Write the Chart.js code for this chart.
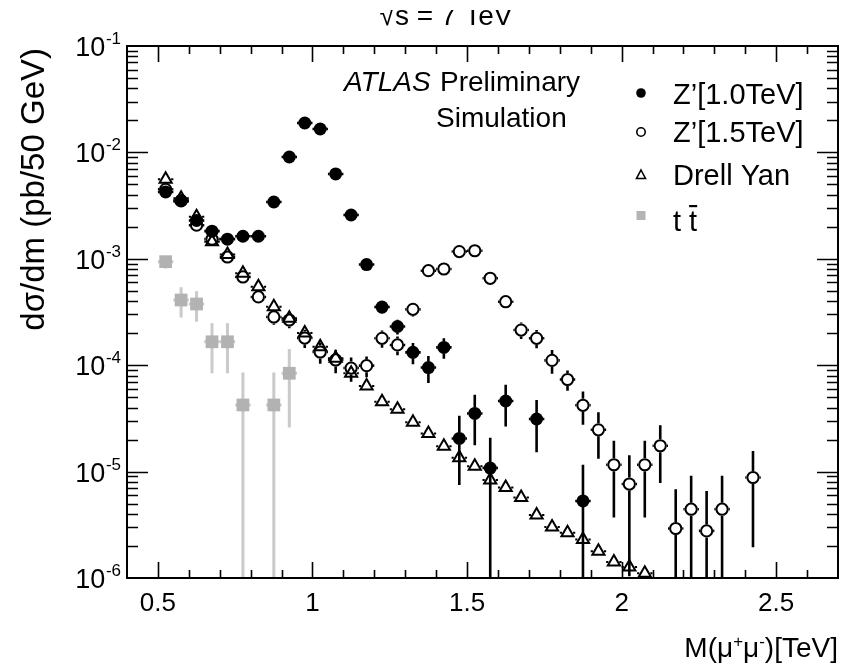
<!DOCTYPE html>
<html>
<head>
<meta charset="utf-8">
<script src="https://cdn.jsdelivr.net/npm/chart.js@4/dist/chart.umd.min.js"></script>
<style>
  html, body { margin: 0; padding: 0; background: #ffffff; }
  #wrap { width: 841px; height: 670px; position: relative; }
  canvas { display: block; }
</style>
</head>
<body>
<div id="wrap"><canvas id="c" width="841" height="670"></canvas></div>
<script>
// Dimuon invariant mass bins (centres, TeV), 50 GeV wide
const massBins = [0.525, 0.575, 0.625, 0.675, 0.725, 0.775, 0.825, 0.875, 0.925, 0.975,
                  1.025, 1.075, 1.125, 1.175, 1.225, 1.275, 1.325, 1.375, 1.425, 1.475,
                  1.525, 1.575, 1.625, 1.675, 1.725, 1.775, 1.825, 1.875, 1.925, 1.975,
                  2.025, 2.075, 2.125, 2.175, 2.225, 2.275, 2.325, 2.375, 2.425];
const binHalfWidth = 0.025;

// dσ/dm (pb / 50 GeV) per sample, with statistical errors
const zp1000 = [4.25e-3, 3.53e-3, 2.29e-3, 1.82e-3, 1.53e-3, 1.63e-3, 1.63e-3, 3.42e-3, 9.05e-3, 1.89e-2,
                1.66e-2, 6.27e-3, 2.58e-3, 8.83e-4, 3.52e-4, 2.31e-4, 1.32e-4, 9.5e-5, 1.47e-4, 2.05e-5,
                3.52e-5, 1.08e-5, 4.61e-5, null, 3.12e-5, null, null, 5.3e-6, null, null,
                null, null, null, null, null, null, null, null, null];
const zp1000Err = [1.5e-4, 1.4e-4, 1.1e-4, 1.0e-4, 9e-5, 9e-5, 9e-5, 1.4e-4, 2.2e-4, 3.2e-4,
                   3.0e-4, 1.9e-4, 1.2e-4, 7e-5, 4.6e-5, 3.7e-5, 3.0e-5, 2.7e-5, 3.2e-5, 1.3e-5,
                   1.75e-5, 1.0e-5, 1.95e-5, null, 1.6e-5, null, null, 6.3e-6, null, null,
                   null, null, null, null, null, null, null, null, null];

const zp1500 = [4.5e-3, 3.5e-3, 2.07e-3, 1.53e-3, 1.04e-3, 6.75e-4, 4.38e-4, 2.84e-4, 2.66e-4, 1.80e-4,
                1.33e-4, 1.12e-4, 9.4e-5, 9.9e-5, 1.79e-4, 1.55e-4, 3.35e-4, 7.73e-4, 8.02e-4, 1.17e-3,
                1.19e-3, 6.56e-4, 3.95e-4, 2.14e-4, 1.79e-4, 1.11e-4, 7.34e-5, 4.2e-5, 2.47e-5, 1.16e-5,
                7.64e-6, 1.16e-5, 1.75e-5, 2.92e-6, 4.43e-6, 2.77e-6, 4.43e-6, null, 8.8e-6];
const zp1500Err = [1.8e-4, 1.6e-4, 1.2e-4, 1.0e-4, 8.5e-5, 7e-5, 5.5e-5, 4.4e-5, 4.3e-5, 3.5e-5,
                   3.0e-5, 2.8e-5, 2.4e-5, 2.2e-5, 3.3e-5, 3.1e-5, 4.8e-5, 7.2e-5, 7.3e-5, 8.8e-5,
                   8.9e-5, 6.6e-5, 5.2e-5, 3.8e-5, 3.5e-5, 2.8e-5, 1.6e-5, 1.45e-5, 1.15e-5, 7.9e-6,
                   6.6e-6, 7.9e-6, 9.7e-6, 3.9e-6, 4.7e-6, 3.8e-6, 4.7e-6, null, 6.85e-6];

const drellYan = [5.6e-3, 3.7e-3, 2.49e-3, 1.45e-3, 1.1e-3, 7.3e-4, 5.47e-4, 3.55e-4, 2.76e-4, 2.01e-4,
                  1.49e-4, 1.16e-4, 8.4e-5, 6.38e-5, 4.54e-5, 3.85e-5, 2.91e-5, 2.28e-5, 1.73e-5, 1.35e-5,
                  1.12e-5, 8.34e-6, 7.09e-6, 5.70e-6, 3.91e-6, 3.01e-6, 2.66e-6, 2.30e-6, 1.78e-6, 1.41e-6,
                  1.27e-6, 1.11e-6, null, null, null, null, null, null, null];
const drellYanErr = [1.2e-4, 9e-5, 6.5e-5, 4.5e-5, 3.6e-5, 2.6e-5, 2.0e-5, 1.4e-5, 1.1e-5, 8e-6,
                     6.2e-6, 5e-6, 3.8e-6, 3e-6, 2.2e-6, 1.9e-6, 1.5e-6, 1.2e-6, 9.5e-7, 7.5e-7,
                     6.4e-7, 4.9e-7, 4.3e-7, 3.5e-7, 2.5e-7, 2e-7, 1.8e-7, 1.6e-7, 1.3e-7, 1.05e-7,
                     9.5e-8, 8.5e-8, null, null, null, null, null, null, null];

const ttbar = [9.4e-4, 4.1e-4, 3.76e-4, 1.66e-4, 1.66e-4, 4.23e-5, null, 4.23e-5, 8.4e-5, null,
               null, null, null, null, null, null, null, null, null, null,
               null, null, null, null, null, null, null, null, null, null,
               null, null, null, null, null, null, null, null, null];
const ttbarErr = [1.3e-4, 1.3e-4, 1.2e-4, 8.2e-5, 8.2e-5, 4.3e-5, null, 4.3e-5, 5.8e-5, null,
                  null, null, null, null, null, null, null, null, null, null,
                  null, null, null, null, null, null, null, null, null, null,
                  null, null, null, null, null, null, null, null, null];

// Axis settings
const xMin = 0.4, xMax = 2.7;
const xMajorTicks = [0.5, 1, 1.5, 2, 2.5];
const xTickLabels = ['0.5', '1', '1.5', '2', '2.5'];
const yExponents = [-1, -2, -3, -4, -5, -6];

const FONT = '"Liberation Sans", Arial, Helvetica, sans-serif';

function toPoints(vals, errs) {
  const pts = [];
  massBins.forEach((m, i) => {
    if (vals[i] !== null) pts.push({ x: m, y: vals[i], e: errs[i] });
  });
  return pts;
}

// Error bars drawn ROOT-style: horizontal bin-width bars and vertical error bars,
// with a gap around the marker.
const errorBars = {
  id: 'errorBars',
  beforeDatasetsDraw(chart) {
    const ctx = chart.ctx, xs = chart.scales.x, ys = chart.scales.y, a = chart.chartArea;
    ctx.save();
    ctx.beginPath();
    ctx.rect(a.left, a.top, a.right - a.left, a.bottom - a.top);
    ctx.clip();
    chart.data.datasets.forEach((ds, di) => {
      const meta = chart.getDatasetMeta(di);
      const gap = ds.barGap;
      ctx.strokeStyle = ds.barColor;
      ctx.lineWidth = ds.barWidth;
      ctx.lineCap = 'butt';
      meta.data.forEach((el, i) => {
        const p = ds.data[i];
        const x = el.x, y = el.y;
        const xl = xs.getPixelForValue(p.x - binHalfWidth);
        const xr = xs.getPixelForValue(p.x + binHalfWidth);
        const yu = ys.getPixelForValue(p.y + p.e);
        const lo = p.y - p.e;
        const yl = lo > 0 ? ys.getPixelForValue(lo) : a.bottom + 5;
        ctx.beginPath();
        if (x - gap > xl) { ctx.moveTo(xl, y); ctx.lineTo(x - gap, y); }
        if (xr > x + gap) { ctx.moveTo(x + gap, y); ctx.lineTo(xr, y); }
        if (y - gap > yu) { ctx.moveTo(x, yu); ctx.lineTo(x, y - gap); }
        if (yl > y + gap) { ctx.moveTo(x, y + gap); ctx.lineTo(x, yl); }
        ctx.stroke();
      });
    });
    ctx.restore();
  }
};

function drawPowerLabel(ctx, exp, xRight, yMid) {
  const sup = String(exp);
  ctx.font = '17px ' + FONT;
  const sw = ctx.measureText(sup).width;
  ctx.textAlign = 'left';
  ctx.textBaseline = 'alphabetic';
  ctx.fillText(sup, xRight - sw, yMid - 2);
  ctx.font = '27px ' + FONT;
  ctx.textAlign = 'right';
  ctx.fillText('10', xRight - sw - 0.5, yMid + 10);
}

// Frame, inward ticks on all sides, labels, legend and captions
const frame = {
  id: 'frame',
  afterDraw(chart) {
    const ctx = chart.ctx, xs = chart.scales.x, ys = chart.scales.y, a = chart.chartArea;
    ctx.save();
    ctx.strokeStyle = '#000';
    ctx.fillStyle = '#000';
    ctx.lineWidth = 2;
    ctx.strokeRect(a.left, a.top, a.right - a.left, a.bottom - a.top);

    // x ticks
    ctx.lineWidth = 1.6;
    ctx.beginPath();
    for (let k = 5; k <= 26; k++) {
      const v = k / 10;
      const px = Math.round(xs.getPixelForValue(v)) + 0.5;
      const major = (k % 5 === 0);
      const len = major ? 16 : 8;
      ctx.moveTo(px, a.bottom); ctx.lineTo(px, a.bottom - len);
      ctx.moveTo(px, a.top); ctx.lineTo(px, a.top + len);
    }
    // y ticks (log)
    for (let d = -6; d <= -1; d++) {
      for (let m = 1; m <= 9; m++) {
        const v = m * Math.pow(10, d);
        if (v > 0.1 * 1.0001) break;
        if (d === -6 && m === 1) continue;
        if (d === -1 && m === 1) continue;
        const py = Math.round(ys.getPixelForValue(v)) + 0.5;
        const len = m === 1 ? 21 : 11;
        ctx.moveTo(a.left, py); ctx.lineTo(a.left + len, py);
        ctx.moveTo(a.right, py); ctx.lineTo(a.right - len, py);
      }
    }
    ctx.stroke();

    // x tick labels
    ctx.font = '26px ' + FONT;
    ctx.textAlign = 'center';
    ctx.textBaseline = 'alphabetic';
    xMajorTicks.forEach((v, i) => {
      ctx.fillText(xTickLabels[i], xs.getPixelForValue(v), a.bottom + 33);
    });
    // y tick labels
    yExponents.forEach(e => {
      drawPowerLabel(ctx, e, a.left - 6, ys.getPixelForValue(Math.pow(10, e)));
    });

    // x axis title with superscripts
    const baseY = 657;
    const parts = [['M(μ', 28, 0], ['+', 17, -10], ['μ', 28, 0], ['-', 17, -10], [')[TeV]', 28, 0]];
    let total = 0;
    parts.forEach(p => { ctx.font = p[1] + 'px ' + FONT; total += ctx.measureText(p[0]).width; });
    let cx = 838 - total;
    ctx.textAlign = 'left';
    parts.forEach(p => {
      ctx.font = p[1] + 'px ' + FONT;
      ctx.fillText(p[0], cx, baseY + p[2]);
      cx += ctx.measureText(p[0]).width;
    });

    // y axis title
    ctx.save();
    ctx.translate(44, 48);
    ctx.rotate(-Math.PI / 2);
    ctx.font = '33px ' + FONT;
    ctx.textAlign = 'right';
    ctx.textBaseline = 'alphabetic';
    ctx.fillText('dσ/dm (pb/50 GeV)', 0, 0);
    ctx.restore();

    // energy caption; its upper part is cut off by the page's top strip
    ctx.save();
    ctx.beginPath();
    ctx.rect(0, 10, 841, 30);
    ctx.clip();
    ctx.font = '28px ' + FONT;
    ctx.textAlign = 'center';
    ctx.fillText('√s = 7 TeV', 446, 25);
    ctx.restore();

    // ATLAS label
    ctx.font = 'italic 28px ' + FONT;
    ctx.textAlign = 'left';
    ctx.fillText('ATLAS', 344, 91);
    ctx.font = '28px ' + FONT;
    ctx.fillText('Preliminary', 440, 91);
    ctx.fillText('Simulation', 436, 127);

    // legend
    const lx = 641, tx = 673;
    ctx.font = '29px ' + FONT;
    ctx.fillStyle = '#000';
    ctx.fillText('Z\u2019[1.0TeV]', tx, 104);
    ctx.fillText('Z\u2019[1.5TeV]', tx, 142);
    ctx.fillText('Drell Yan', tx, 185);
    ctx.fillText('t t', tx, 231);
    const tw = ctx.measureText('t ').width, tw2 = ctx.measureText('t').width;
    ctx.fillRect(tx + tw, 205, tw2, 2.2);

    ctx.beginPath(); ctx.arc(lx, 93, 4.8, 0, Math.PI * 2); ctx.fill();
    ctx.lineWidth = 1.6;
    ctx.beginPath(); ctx.arc(lx, 132, 4.2, 0, Math.PI * 2); ctx.stroke();
    ctx.beginPath(); ctx.moveTo(lx, 170); ctx.lineTo(lx + 4.5, 178.5); ctx.lineTo(lx - 4.5, 178.5); ctx.closePath(); ctx.stroke();
    ctx.fillStyle = '#b4b4b4';
    ctx.fillRect(lx - 4.5, 211, 9, 9);
    ctx.restore();
  }
};

const ctxEl = document.getElementById('c');
new Chart(ctxEl, {
  type: 'scatter',
  data: {
    datasets: [
      { label: 'Z\u2019[1.0TeV]', data: toPoints(zp1000, zp1000Err), order: 0,
        pointStyle: 'circle', pointRadius: 6.5, backgroundColor: '#000', borderColor: '#000', borderWidth: 0,
        barGap: 6, barColor: '#000', barWidth: 2.6 },
      { label: 'Z\u2019[1.5TeV]', data: toPoints(zp1500, zp1500Err), order: 1,
        pointStyle: 'circle', pointRadius: 5.6, backgroundColor: 'rgba(0,0,0,0)', borderColor: '#000', borderWidth: 2,
        barGap: 6.5, barColor: '#000', barWidth: 2.6 },
      { label: 'Drell Yan', data: toPoints(drellYan, drellYanErr), order: 2, clip: false,
        pointStyle: 'triangle', pointRadius: 7, backgroundColor: 'rgba(0,0,0,0)', borderColor: '#000', borderWidth: 2,
        barGap: 5.5, barColor: '#000', barWidth: 2 },
      { label: 't t\u0304', data: toPoints(ttbar, ttbarErr), order: 3,
        pointStyle: 'rect', pointRadius: 9, backgroundColor: '#b2b2b2', borderColor: '#b2b2b2', borderWidth: 0,
        barGap: 5, barColor: '#cacaca', barWidth: 3 }
    ]
  },
  options: {
    responsive: false,
    animation: false,
    devicePixelRatio: 1,
    layout: { autoPadding: false, padding: { top: 46, right: 3, left: 0, bottom: 0 } },
    plugins: { legend: { display: false }, tooltip: { enabled: false }, title: { display: false } },
    elements: { point: { hoverRadius: 6 } },
    scales: {
      x: {
        type: 'linear', min: xMin, max: xMax,
        grid: { display: false, drawTicks: false }, border: { display: false },
        ticks: { display: false },
        afterFit(s) { s.height = 92; }
      },
      y: {
        type: 'logarithmic', min: 1e-6, max: 1e-1,
        grid: { display: false, drawTicks: false }, border: { display: false },
        ticks: { display: false },
        afterFit(s) { s.width = 127; }
      }
    }
  },
  plugins: [errorBars, frame]
});
</script>
</body>
</html>
